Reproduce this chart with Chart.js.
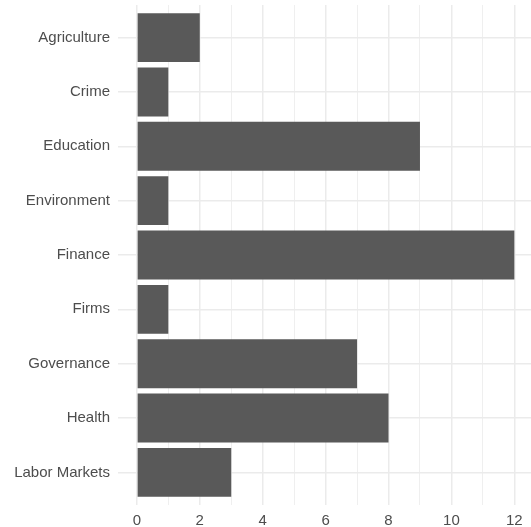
<!DOCTYPE html>
<html>
<head>
<meta charset="utf-8">
<script src="https://cdn.jsdelivr.net/npm/chart.js@4"></script>
<style>
  html, body { margin: 0; padding: 0; background: #fff; }
  #wrap { width: 531px; height: 527px; }
</style>
</head>
<body>
<div id="wrap"><canvas id="myChart" width="531" height="527"></canvas></div>
<script>
const categories = [
    'Agriculture',
    'Crime',
    'Education',
    'Environment',
    'Finance',
    'Firms',
    'Governance',
    'Health',
    'Labor Markets'
];

const counts = [2, 1, 9, 1, 12, 1, 7, 8, 3];

const xTicks = [0, 2, 4, 6, 8, 10, 12];

const gridColor = '#EBEBEB';
const textColor = '#4D4D4D';
const font = { family: "'Liberation Sans', Arial, sans-serif", size: 15 };

const points = counts.map((v, i) => ({ x: v, y: i }));

const data = {
    datasets: [{
        label: 'count',
        backgroundColor: '#595959',
        borderWidth: 0,
        categoryPercentage: 1,
        barPercentage: 0.9,
        data: points,
    }]
};

const config = {
    type: 'bar',
    data: data,
    options: {
        indexAxis: 'y',
        responsive: false,
        animation: false,
        events: [],
        layout: { padding: { top: 5, right: 0, bottom: 0, left: 0 } },
        plugins: {
            legend: { display: false },
            tooltip: { enabled: false }
        },
        scales: {
            x: {
                type: 'linear',
                position: 'bottom',
                min: -0.6,
                max: 12.53,
                offset: false,
                border: { display: false },
                grid: {
                    offset: false,
                    drawTicks: false,
                    color: gridColor,
                    lineWidth: (ctx) => (xTicks.includes(ctx.tick.value) ? 1.5 : 0.8)
                },
                ticks: {
                    stepSize: 1,
                    includeBounds: false,
                    autoSkip: false,
                    maxRotation: 0,
                    padding: 7,
                    color: textColor,
                    font: font,
                    callback: (v) => (xTicks.includes(v) ? String(v) : '')
                },
                afterFit: (scale) => {
                    scale.height = 22;
                    scale.paddingLeft = 0;
                    scale.paddingRight = 0;
                }
            },
            y: {
                type: 'linear',
                position: 'left',
                reverse: true,
                min: -0.6,
                max: categories.length - 1 + 0.6,
                offset: false,
                border: { display: false },
                grid: {
                    offset: false,
                    drawTicks: false,
                    color: gridColor,
                    lineWidth: 1.5
                },
                ticks: {
                    stepSize: 1,
                    includeBounds: false,
                    autoSkip: false,
                    padding: 8,
                    color: textColor,
                    font: font,
                    callback: (v) => categories[v] || ''
                },
                afterFit: (scale) => {
                    scale.width = 118;
                    scale.paddingTop = 0;
                    scale.paddingBottom = 0;
                }
            }
        }
    }
};

const myChart = new Chart(
    document.getElementById('myChart'),
    config
);
</script>
</body>
</html>
